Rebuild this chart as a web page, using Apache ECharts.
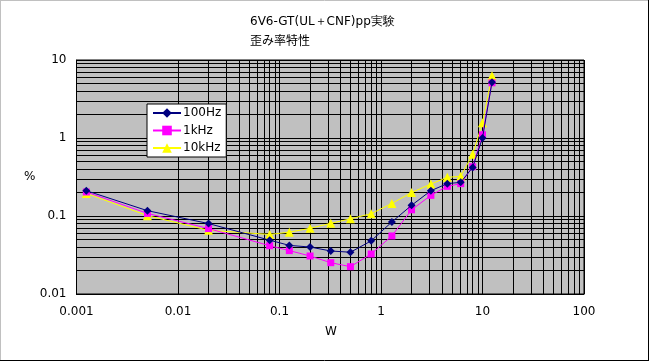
<!DOCTYPE html>
<html><head><meta charset="utf-8">
<script src="https://cdn.jsdelivr.net/npm/echarts@6/dist/echarts.min.js"></script>
<style>html,body{margin:0;padding:0;background:#fff}#c{width:649px;height:361px}</style>
</head><body><div id="c"></div>
<script>
const watts = [0.00125, 0.005, 0.02, 0.08, 0.125, 0.2, 0.32, 0.5, 0.8, 1.28, 2, 3.1, 4.5, 6.1, 8, 10, 12.4];
const thd100 = [0.211, 0.117, 0.080, 0.049, 0.042, 0.040, 0.0356, 0.0343, 0.048, 0.084, 0.137, 0.211, 0.26, 0.27, 0.42, 1.0, 5.2];
const thd1k  = [0.203, 0.108, 0.069, 0.0416, 0.036, 0.0307, 0.0252, 0.0224, 0.0326, 0.0555, 0.120, 0.184, 0.240, 0.260, 0.428, 1.10, 5.1];
const thd10k = [0.195, 0.101, 0.0656, 0.058, 0.062, 0.0695, 0.0806, 0.092, 0.107, 0.145, 0.200, 0.257, 0.313, 0.323, 0.618, 1.57, 6.3];
const xTicks = ['0.001','0.01','0.1','1','10','100'];
const yTicks = ['0.01','0.1','1','10'];
const seriesNames = ['100Hz','1kHz','10kHz'];

const minorX = [], minorY = [];
for (let d = -3; d <= 1; d++) for (let k = 2; k <= 9; k++) minorX.push(+(k*Math.pow(10,d)).toPrecision(3));
for (let d = -2; d <= 0; d++) for (let k = 2; k <= 9; k++) minorY.push(+(k*Math.pow(10,d)).toPrecision(3));

const font = '"DejaVu Sans", sans-serif';
const chart = echarts.init(document.getElementById('c'), null, {renderer:'canvas'});
const mk = (arr) => watts.map((w,i)=>[w, arr[i]]);
chart.setOption({
  animation:false,
  backgroundColor:'#fff',
  textStyle:{fontFamily:font},
  graphic:[
    {type:'line', shape:{x1:0.5,y1:0,x2:0.5,y2:361}, style:{stroke:'#c0c0c0',lineWidth:1}},
    {type:'line', shape:{x1:0,y1:0.5,x2:649,y2:0.5}, style:{stroke:'#c0c0c0',lineWidth:1}},
    {type:'line', shape:{x1:648.5,y1:0,x2:648.5,y2:361}, style:{stroke:'#000',lineWidth:1}},
    {type:'line', shape:{x1:0,y1:360.5,x2:649,y2:360.5}, style:{stroke:'#000',lineWidth:1}},
    {type:'text', left:250, top:16, style:{text:'6V6-GT(UL＋CNF)pp実験', font:'12px '+font, fill:'#000'}},
    {type:'text', left:250, top:34, style:{text:'歪み率特性', font:'12px "Noto Sans CJK JP", sans-serif', fill:'#000'}},
    {type:'text', left:24, top:171, style:{text:'%', font:'12px '+font, fill:'#000'}},
    {type:'text', left:325, top:326, style:{text:'W', font:'12px '+font, fill:'#000'}}
  ],
  grid:{left:76.5, right:65, top:60, bottom:67, show:true, backgroundColor:'#c0c0c0', borderColor:'#000', borderWidth:1, z:0},
  legend:{
    orient:'vertical', left:147, top:104, backgroundColor:'#fff', borderColor:'#000', borderWidth:1,
    padding:[3,5,3,5], itemWidth:28, itemHeight:12, itemGap:5.5, z:20,
    textStyle:{fontSize:12, color:'#000', fontFamily:font, padding:[0,0,0,-3]},
    data:seriesNames
  },
  xAxis:{type:'log', logBase:10, min:0.001, max:100,
    axisLine:{lineStyle:{color:'#000'}}, axisTick:{show:false},
    axisLabel:{color:'#000', fontSize:12, margin:12, formatter:(v)=>{const s=xTicks.find(t=>Math.abs(+t-v)/v<1e-6);return s||'';}},
    splitLine:{show:true, lineStyle:{color:'#000', width:1}}},
  yAxis:{type:'log', logBase:10, min:0.01, max:10,
    axisLine:{lineStyle:{color:'#000'}}, axisTick:{show:false},
    axisLabel:{color:'#000', fontSize:12, margin:10, formatter:(v)=>{const s=yTicks.find(t=>Math.abs(+t-v)/v<1e-6);return s||'';}},
    splitLine:{show:true, lineStyle:{color:'#000', width:1}}},
  series:[
    {type:'line', name:'grid', data:[], z:1, zlevel:0, silent:true,
      markLine:{silent:true, symbol:'none', label:{show:false}, animation:false, z:1,
        lineStyle:{color:'#000', width:1, type:'solid'},
        data:[...minorX.map(v=>({xAxis:v})), ...minorY.map(v=>({yAxis:v}))]}},
    {type:'line', name:'100Hz', data:mk(thd100), z:12, color:'#000080', symbol:'diamond', symbolSize:8,
      lineStyle:{width:1, color:'#000080'}, itemStyle:{color:'#000080'}},
    {type:'line', name:'1kHz', data:mk(thd1k), z:11, color:'#ff00ff', symbol:'rect', symbolSize:7,
      lineStyle:{width:1, color:'#ff00ff'}, itemStyle:{color:'#ff00ff'}},
    {type:'line', name:'10kHz', data:mk(thd10k), z:10, color:'#ffff00', symbol:'triangle', symbolSize:9,
      lineStyle:{width:1, color:'#ffff00'}, itemStyle:{color:'#ffff00'}}
  ]
});
</script></body></html>
